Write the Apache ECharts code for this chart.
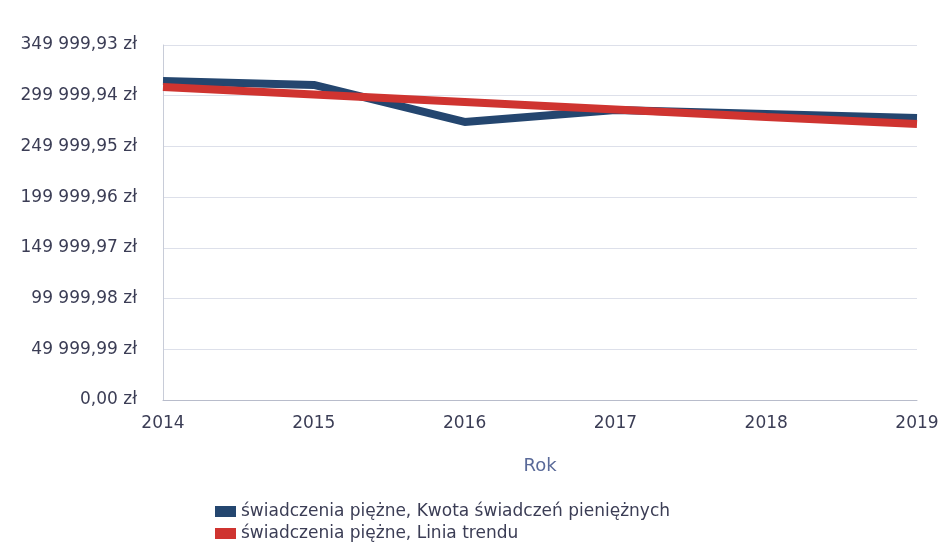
<!DOCTYPE html>
<html>
<head>
<meta charset="utf-8">
<script src="https://cdn.jsdelivr.net/npm/echarts@6/dist/echarts.min.js"></script>
<style>
  html, body { margin: 0; padding: 0; background: #fff; }
  #chart { width: 943px; height: 548px; }
</style>
</head>
<body>
<div id="chart"></div>
<script>
// lata
var years = ['2014', '2015', '2016', '2017', '2018', '2019']
// kwota świadczeń
var kwota = [314500, 310600, 274100, 285900, 282000, 278000]
// linia trendu
var trend = [308600, 301200, 293800, 286400, 279000, 272100]
var seriesNames = ['świadczenia piężne, Kwota świadczeń pieniężnych', 'świadczenia piężne, Linia trendu']
var yMax = 349999.93
var yStep = 49999.99

function fmtZl(v) {
  var s = v.toFixed(2).split('.')
  var intPart = s[0].replace(/\B(?=(\d{3})+(?!\d))/g, ' ')
  return intPart + ',' + s[1] + ' zł'
}

var chart = echarts.init(document.getElementById('chart'))
var option = {
  backgroundColor: '#fff',
  animation: false,
  textStyle: { fontFamily: 'DejaVu Sans' },
  grid: { left: 163, right: 26, top: 45, bottom: 148 },
  legend: {
    orient: 'vertical',
    left: 215,
    top: 503,
    padding: 0,
    itemWidth: 21,
    itemHeight: 11,
    itemGap: 5,
    icon: 'rect',
    textStyle: { fontSize: 17, color: '#3b3d55', fontFamily: 'DejaVu Sans' },
    data: seriesNames
  },
  xAxis: {
    type: 'category',
    boundaryGap: false,
    data: years,
    name: 'Rok',
    nameLocation: 'middle',
    nameGap: 57,
    nameTextStyle: { fontSize: 18, color: '#5a6a99', fontFamily: 'DejaVu Sans' },
    axisLine: { show: true, lineStyle: { color: '#b8bccb', width: 1 } },
    axisTick: { show: false },
    axisLabel: { fontSize: 17, color: '#3b3d55', margin: 15, fontFamily: 'DejaVu Sans' }
  },
  yAxis: {
    type: 'value',
    min: 0,
    max: yMax,
    interval: yStep,
    axisLine: { show: true, lineStyle: { color: '#c8ccd8' } },
    axisTick: { show: false },
    splitLine: { lineStyle: { color: '#dde0ea' } },
    axisLabel: {
      fontSize: 17, color: '#3b3d55', margin: 26, fontFamily: 'DejaVu Sans',
      formatter: function (v) { return fmtZl(v) }
    }
  },
  series: [
    {
      name: seriesNames[0],
      type: 'line',
      data: kwota,
      symbol: 'none',
      color: '#24466f',
      lineStyle: { width: 8, color: '#24466f' }
    },
    {
      name: seriesNames[1],
      type: 'line',
      data: trend,
      symbol: 'none',
      color: '#cf3430',
      lineStyle: { width: 8, color: '#cf3430' }
    }
  ]
}
chart.setOption(option)
</script>
</body>
</html>
